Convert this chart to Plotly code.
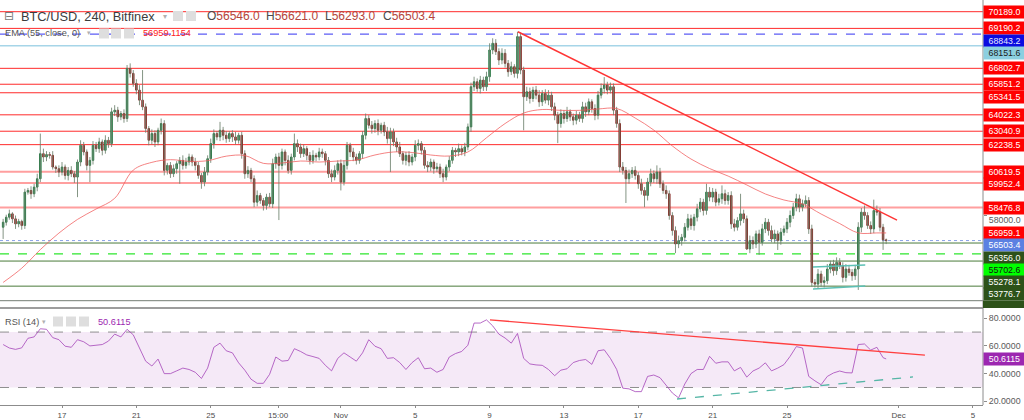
import plotly.graph_objects as go
import pandas as pd

# ---------------- data ----------------
title_text = "BTC/USD, 240, Bitfinex"
ema_title = "EMA (55, close, 0)"
rsi_title = "RSI (14)"

candle_start = "2021-10-13 20:00"
first_open = 57300.0
closes = [
    57600, 57900, 58100, 57800, 57500, 57650,
    57400, 59400, 59500, 59300, 59700, 60200,
    61700, 61500, 61650, 61600, 60900, 60800,
    60600, 60900, 60400, 60700, 60500, 60300,
    61200, 62200, 61800, 61000, 61300, 62200,
    62000, 62400, 61900, 62500, 62300, 64200,
    64300, 63900, 64100, 63800, 66800, 66500,
    65900, 65500, 64900, 64500, 63200, 62500,
    62900, 62400, 63100, 63500, 60700, 61000,
    60500, 60800, 61100, 61300, 61000, 61200,
    61500, 61200, 61000, 60400, 60000, 60600,
    61400, 62300, 62900, 62700, 63100, 62800,
    62600, 62900, 62700, 62500, 62800, 61700,
    60500, 60700, 60200, 58800, 59200, 58900,
    58600, 59100, 58700, 61100, 61500, 61000,
    61800, 61300, 60700, 61500, 62300, 62100,
    61700, 62000, 61600, 61300, 61600, 61500,
    61800, 61700, 61300, 60500, 60300, 60700,
    61100, 60000, 61000, 62200, 61800, 61500,
    61300, 61700, 62800, 63800, 63400, 63200,
    63500, 63100, 63400, 63000, 62600, 63000,
    62400, 62100, 61700, 61300, 61600, 61200,
    61500, 62200, 62300, 61900, 61000, 60900,
    61200, 60800, 60900, 60500, 60300, 60900,
    61300, 61900, 61800, 62000, 61800, 62100,
    63300, 65700, 66000, 65600, 66100, 65700,
    66300, 67900, 68300, 67800, 67300, 67700,
    67100, 66600, 66900, 66500, 68700, 66700,
    65100, 65400, 65000, 65500, 65200, 64800,
    65300, 64900, 65200, 64500, 64000, 63500,
    64100, 63800, 64200, 63900, 63700, 64000,
    63800, 64500, 64200, 64800, 64400, 64000,
    65200, 65600, 65800, 65500, 65700, 64300,
    63500, 60900, 60700, 60200, 60500, 60700,
    60400, 59900, 59500, 59200, 60000, 60500,
    60200, 60600, 59900, 59500, 59300, 58000,
    57100, 56300, 56500, 56700, 57300, 57800,
    57400, 57900, 58400, 58800, 58300, 59400,
    59100, 59400, 58800, 59000, 59300, 58900,
    59200, 57500, 57300, 57700, 58100, 57800,
    56000, 56500, 56300, 56900, 56400, 57200,
    57600, 57100, 56600, 56900, 56500, 57000,
    57200, 57600, 58000, 58500, 59000, 58500,
    58700, 58900, 57200, 54000, 53900, 54500,
    54000, 54100, 54800, 55100, 54700, 55200,
    55000, 54300, 54800, 54600, 54400, 54800,
    57300, 58200, 58000, 57400, 57200, 58300,
    58200, 57300, 56546.0, 56503.4,
]
wick_up = [
    200, 150, 250, 100, 200, 150,
    100, 200, 150, 250, 200, 300,
    1200, 300, 200, 150, 250, 100,
    200, 300, 150, 200, 250, 150,
    150, 300, 200, 150, 200, 250,
    200, 250, 150, 300, 200, 250,
    300, 200, 150, 250, 200, 300,
    200, 250, 300, 1800, 200, 150,
    250, 200, 150, 300, 200, 150,
    200, 250, 150, 200, 300, 250,
    200, 150, 250, 200, 150, 300,
    200, 300, 250, 150, 500, 200,
    250, 150, 200, 300, 150, 200,
    200, 250, 150, 200, 300, 150,
    150, 200, 250, 300, 200, 250,
    200, 150, 300, 200, 600, 250,
    200, 250, 150, 200, 300, 150,
    250, 200, 150, 200, 250, 300,
    200, 250, 300, 200, 150, 250,
    200, 150, 250, 300, 200, 250,
    200, 250, 150, 200, 300, 250,
    200, 250, 300, 150, 200, 250,
    200, 300, 250, 150, 200, 250,
    200, 150, 250, 200, 300, 150,
    250, 200, 150, 300, 200, 250,
    200, 250, 300, 200, 250, 200,
    300, 400, 300, 250, 200, 300,
    250, 200, 300, 150, 290, 250,
    200, 300, 250, 200, 250, 300,
    200, 250, 300, 200, 250, 200,
    250, 200, 300, 150, 200, 250,
    200, 300, 250, 200, 150, 250,
    250, 300, 480, 200, 250, 200,
    200, 250, 300, 200, 250, 200,
    250, 200, 300, 200, 250, 300,
    200, 400, 250, 200, 300, 200,
    200, 250, 300, 200, 250, 300,
    250, 200, 300, 250, 200, 500,
    300, 250, 200, 300, 500, 250,
    200, 250, 300, 200, 1200, 250,
    200, 300, 250, 200, 250, 300,
    250, 200, 300, 250, 200, 250,
    200, 250, 300, 250, 300, 250,
    250, 300, 200, 250, 200, 300,
    200, 250, 300, 200, 250, 300,
    250, 200, 300, 250, 200, 250,
    300, 250, 400, 200, 250, 650,
    300, 250, 200, 75,
]
wick_dn = [
    700, 200, 150, 250, 300, 200,
    250, 200, 150, 300, 200, 250,
    200, 300, 250, 200, 150, 250,
    300, 200, 250, 300, 200, 350,
    1200, 250, 200, 300, 1000, 250,
    200, 250, 300, 200, 250, 200,
    250, 300, 200, 250, 200, 250,
    200, 250, 300, 200, 250, 300,
    250, 300, 200, 250, 300, 250,
    250, 200, 300, 1200, 250, 200,
    200, 250, 300, 200, 400, 250,
    200, 250, 300, 200, 250, 300,
    250, 200, 300, 250, 200, 300,
    300, 250, 200, 300, 250, 200,
    300, 250, 200, 250, 300, 3270,
    250, 300, 200, 250, 200, 300,
    250, 200, 300, 250, 200, 250,
    200, 250, 300, 250, 300, 200,
    250, 500, 200, 250, 300, 250,
    250, 200, 300, 250, 200, 300,
    250, 300, 200, 250, 300, 2000,
    250, 300, 200, 250, 300, 250,
    200, 250, 300, 250, 200, 300,
    250, 300, 200, 250, 300, 200,
    250, 200, 300, 250, 200, 250,
    200, 300, 250, 200, 300, 250,
    250, 300, 250, 200, 300, 250,
    250, 300, 200, 250, 300, 250,
    2000, 250, 300, 200, 250, 300,
    250, 200, 300, 250, 300, 1170,
    250, 300, 200, 250, 300, 250,
    200, 250, 300, 200, 250, 300,
    250, 200, 300, 250, 200, 300,
    250, 300, 250, 1450, 300, 250,
    250, 300, 250, 700, 300, 250,
    250, 300, 250, 200, 300, 250,
    300, 550, 250, 300, 250, 200,
    250, 300, 250, 200, 300, 250,
    250, 300, 250, 200, 300, 250,
    250, 300, 250, 200, 300, 250,
    60, 250, 300, 250, 750, 200,
    250, 300, 200, 250, 560, 250,
    200, 250, 300, 200, 250, 300,
    250, 200, 300, 250, 200, 250,
    250, 300, 200, 250, 300, 250,
    200, 300, 250, 200, 300, 250,
    1250, 300, 250, 200, 300, 250,
    200, 250, 600, 210.4,
]

# EMA(55) read every 6th candle, plus the last candle
ema_values = [
    54000, 54850, 55960, 56950, 57770, 58390, 59030, 60720, 61180, 61340,
    61240, 61280, 61550, 61590, 61120, 61140, 61260, 61200, 61260, 61320,
    61620, 61800, 61770, 61620, 61560, 61800, 62650, 63500, 64130, 64340,
    64290, 64290, 64370, 64400, 63830, 63110, 62160, 61380, 60810, 60360,
    59830, 59290, 58930, 58690, 58090, 57520, 56960, 56960, 56959.1,
]
ema_last = 56959.1154

# RSI(14) read every 2nd candle, plus the last candle
rsi_values = [
    61, 58.5, 57.5, 58.6, 65.5, 66.5, 72.4, 72, 66, 64.5,
    59.8, 59, 64.5, 63, 60, 60.5, 61, 63.5, 68.5, 66.5,
    72, 68, 58, 49, 45.5, 50.5, 40, 40, 42, 44,
    43, 41, 36.5, 44, 59, 62, 56.5, 55, 47.8, 42.5,
    36, 33, 33, 39.5, 52, 49, 49.5, 58, 56, 53.5,
    52.3, 51, 46, 42, 51, 55, 52, 49, 55, 64.5,
    59.8, 58, 51, 51.5, 48, 43, 48, 51.5, 43.5, 44,
    41, 43, 52, 54.5, 56, 60.5, 76.5, 76.5, 78.8, 74.5,
    68.5, 65.7, 62, 69, 51, 47, 46.3, 46, 43, 38.5,
    42.5, 43.5, 48, 49.5, 50.2, 46.7, 56.5, 57.2, 51, 43.1,
    29.5, 29, 27, 27, 38, 39, 37.1, 31.5, 26, 22.5,
    32.5, 40, 43, 43, 52.5, 47.5, 48.5, 48.5, 42, 44.5,
    37.5, 41.9, 44, 47.8, 42, 44, 46.5, 52.5, 59.5, 58.5,
    38, 34.8, 32, 38, 40.5, 41.9, 40.7, 40.5, 61, 61.4,
    57, 59, 51.5, 50.6115,
]
rsi_last = 50.6115

level_prices = [70189.0, 69190.2, 68843.2, 68151.6, 66802.7, 65851.2, 65341.5,
                64022.3, 63040.9, 62238.5, 60619.5, 59952.4, 58476.8,
                56356.0, 55702.6, 55278.1, 53776.7, 52907.0]
level_kinds = ["res", "res", "ath", "pivot", "res", "res", "res",
               "res", "res", "res", "zone", "zone", "zone",
               "sup", "supd", "sup", "sup", "sup2"]

trend_times = ["2021-11-10 12:30", "2021-11-30 22:00"]
trend_prices = [68990, 57730]
channel_times = ["2021-11-26 09:30", "2021-11-29 05:00"]
channel_upper = [54920, 55040]
channel_lower = [53610, 53790]

rsi_trend_times = ["2021-11-09 00:30", "2021-12-02 10:00"]
rsi_trend_values = [78.8, 53.3]
rsi_support_times = ["2021-11-19 02:00", "2021-12-01 18:40"]
rsi_support_values = [21.7, 37.6]

price_ticks = [54000, 56000, 58000, 60000, 62000, 64000, 66000, 68000, 70000]
rsi_ticks = [20, 40, 60, 80]
xtick_dates = ["2021-10-17", "2021-10-21", "2021-10-25", "2021-10-28 15:00",
               "2021-11-01", "2021-11-05", "2021-11-09", "2021-11-13",
               "2021-11-17", "2021-11-21", "2021-11-25", "2021-12-01", "2021-12-05"]
xtick_text = ["17", "21", "25", "15:00", "Nov", "5", "9", "13", "17", "21", "25", "Dec", "5"]

assert len(closes) == len(wick_up) == len(wick_dn) == 286
assert len(ema_values) == 49 and len(rsi_values) == 144

# ---------------- geometry / style ----------------
W, H = 1024, 420
PLOT_R = 983
MAIN_T, MAIN_B = 0, 308
RSI_T, RSI_B = 310, 405
P_TOP, P_BOT = 70888.7, 52470.3
R_TOP, R_BOT = 85.93, 17.36
X0, X1 = "2021-10-13 15:57", "2021-12-05 13:00"
FONT = "Liberation Sans, Arial, DejaVu Sans, sans-serif"
LABEL_H = 12.3


def py(p):
    return 1 - p / H


def price_px(p):
    return MAIN_T + (P_TOP - p) / (P_TOP - P_BOT) * (MAIN_B - MAIN_T)


def rsi_px(v):
    return RSI_T + (R_TOP - v) / (R_TOP - R_BOT) * (RSI_B - RSI_T)


kind_style = {
    "res": dict(color="#ff2b2b", width=1, dash="solid", bg="#ff0000", fg="#ffffff"),
    "zone": dict(color="rgba(255,95,95,0.6)", width=2, dash="solid", bg="#ff0000", fg="#ffffff"),
    "ath": dict(color="#5c5cf5", width=1.3, dash="dash", bg="#0b0be0", fg="#e6e6ff"),
    "pivot": dict(color="#a6d5e8", width=1.3, dash="solid", bg="#8ccfe0", fg="#1b1b1b"),
    "sup": dict(color="#4a7a3a", width=1, dash="solid", bg="#2d5219", fg="#ffffff"),
    "sup2": dict(color="#737d73", width=1, dash="solid", bg="#2d5219", fg="#ffffff"),
    "supd": dict(color="#2ee62e", width=1.3, dash="dash", bg="#00ff00", fg="#102010"),
}

# ---------------- derived candle values ----------------
times = pd.date_range(candle_start, periods=len(closes), freq="4h")
opens = [first_open] + closes[:-1]
highs = [max(o, c) + u for o, c, u in zip(opens, closes, wick_up)]
lows = [min(o, c) - d for o, c, d in zip(opens, closes, wick_dn)]
body_hi = [max(o, c) for o, c in zip(opens, closes)]
body_lo = [min(o, c) for o, c in zip(opens, closes)]

fig = go.Figure()

# wicks (grey, as in the reference)
wx, wy = [], []
for t, lo, hi in zip(times, lows, highs):
    wx += [t, t, None]
    wy += [lo, hi, None]
fig.add_trace(go.Scatter(x=wx, y=wy, mode="lines", line=dict(color="rgba(110,130,110,0.85)", width=1),
                         xaxis="x", yaxis="y", hoverinfo="skip"))

fig.add_trace(go.Candlestick(
    x=times, open=opens, high=body_hi, low=body_lo, close=closes,
    increasing=dict(fillcolor="#3a9a5e", line=dict(color="#2c7a48", width=1)),
    decreasing=dict(fillcolor="#b3433b", line=dict(color="#862e28", width=1)),
    whiskerwidth=0, xaxis="x", yaxis="y", hoverinfo="skip"))

ema_times = list(times[::6]) + [times[-1]]
fig.add_trace(go.Scatter(x=ema_times, y=ema_values, mode="lines",
                         line=dict(color="rgba(240,90,90,0.75)", width=1, shape="spline"),
                         xaxis="x", yaxis="y"))

fig.add_trace(go.Scatter(x=trend_times, y=trend_prices, mode="lines",
                         line=dict(color="#ff3535", width=1.5), xaxis="x", yaxis="y"))
for ys in (channel_upper, channel_lower):
    fig.add_trace(go.Scatter(x=channel_times, y=ys, mode="lines",
                             line=dict(color="#5cc0b5", width=1.5), xaxis="x", yaxis="y"))

rsi_times = list(times[::2]) + [times[-1]]
fig.add_trace(go.Scatter(x=rsi_times, y=rsi_values, mode="lines",
                         line=dict(color="rgba(165,70,185,0.8)", width=1),
                         xaxis="x2", yaxis="y2"))
fig.add_trace(go.Scatter(x=rsi_trend_times, y=rsi_trend_values, mode="lines",
                         line=dict(color="#ff4040", width=1.3), xaxis="x2", yaxis="y2"))
fig.add_trace(go.Scatter(x=rsi_support_times, y=rsi_support_values, mode="lines",
                         line=dict(color="#56b6a6", width=1.3, dash="dash"), xaxis="x2", yaxis="y2"))

shapes = []
annotations = []
xr = PLOT_R / W

# horizontal levels
for p, k in zip(level_prices, level_kinds):
    s = kind_style[k]
    shapes.append(dict(type="line", xref="paper", yref="y", x0=0, x1=xr, y0=p, y1=p,
                       line=dict(color=s["color"], width=s["width"], dash=s["dash"]), layer="below"))
# current price line
shapes.append(dict(type="line", xref="paper", yref="y", x0=0, x1=xr, y0=closes[-1], y1=closes[-1],
                   line=dict(color="#8aa2e6", width=1, dash="dot"), layer="below"))

# RSI band
shapes.append(dict(type="rect", xref="paper", yref="y2", x0=0, x1=xr, y0=30, y1=70,
                   fillcolor="rgba(156,39,176,0.10)", line=dict(width=0), layer="below"))
for v in (30, 70):
    shapes.append(dict(type="line", xref="paper", yref="y2", x0=0, x1=xr, y0=v, y1=v,
                       line=dict(color="#8f8f8f", width=1, dash="dash"), layer="below"))

# separator and right axis line
shapes.append(dict(type="line", xref="paper", yref="paper", x0=0, x1=xr, y0=py(MAIN_B), y1=py(MAIN_B),
                   line=dict(color="#7d7d7d", width=1.5)))
shapes.append(dict(type="line", xref="paper", yref="paper", x0=xr, x1=xr, y0=py(RSI_B), y1=1,
                   line=dict(color="#8c8c8c", width=1)))

# price-axis labels, stacked like the platform does
labels = [(p, kind_style[k]["bg"], kind_style[k]["fg"]) for p, k in zip(level_prices, level_kinds)]
labels.append((ema_last, "#ff0000", "#ffffff"))
labels.append((closes[-1], "#5b80e2", "#ffffff"))
labels.sort(key=lambda e: -e[0])
prev = -1e9
boxes = []
for p, bg, fg in labels:
    pos = max(price_px(p), prev + LABEL_H)
    prev = pos
    boxes.append((pos - LABEL_H / 2, pos + LABEL_H / 2))
    if pos + LABEL_H / 2 > MAIN_B + 1:
        shapes.append(dict(type="rect", xref="paper", yref="paper", x0=xr, x1=1,
                           y0=py(MAIN_B), y1=py(pos - LABEL_H / 2), fillcolor=bg, line=dict(width=0)))
        continue
    annotations.append(dict(x=xr, y=py(pos), xref="paper", yref="paper", xanchor="left", yanchor="middle",
                            text=f"{p:.1f}", showarrow=False, bgcolor=bg, width=41, height=LABEL_H,
                            borderpad=0, align="center", font=dict(family=FONT, size=8.8, color=fg)))

# axis tick labels whose centre a label box covers are left blank
price_ticktext = []
for v in price_ticks:
    c = price_px(v)
    hidden = any(b0 - 1 < c < b1 + 1 for b0, b1 in boxes)
    price_ticktext.append("" if hidden else f"{v:.1f}")

# RSI value label
rsi_box_c = rsi_px(rsi_last)
annotations.append(dict(x=xr, y=py(rsi_box_c), xref="paper", yref="paper", xanchor="left",
                        yanchor="middle", text=f"{rsi_last:.4f}", showarrow=False, bgcolor="#9c27b0",
                        width=41, height=LABEL_H, borderpad=0, align="center",
                        font=dict(family=FONT, size=8.8, color="#ffffff")))


def text(x, y, s, size, color, family=FONT):
    annotations.append(dict(x=x / W, y=py(y), xref="paper", yref="paper", xanchor="left",
                            yanchor="middle", text=s, showarrow=False,
                            font=dict(family=family, size=size, color=color)))


def icon_boxes(xs, y0, y1):
    for xa in xs:
        shapes.append(dict(type="rect", xref="paper", yref="paper", x0=xa / W, x1=(xa + 10) / W,
                           y0=py(y1), y1=py(y0), fillcolor="#dedede", line=dict(width=0)))


# header
text(2, 16.5, "⊟", 12, "#7a7a7a", "DejaVu Sans")
text(19, 16.5, title_text, 12.8, "#3c3c3c")
text(161, 16.5, "▾", 8, "#b0b0b0", "DejaVu Sans")
icon_boxes([173, 186], 11, 21)
ohlc = [("O", opens[-1]), ("H", highs[-1]), ("L", lows[-1]), ("C", closes[-1])]
for (lab, v), xx in zip(ohlc, [205, 264, 323, 381]):
    text(xx, 16.5, f"{lab}<span style='color:#b5443b'>{v:.1f}</span>", 12, "#4a4a4a")

text(3, 33.5, ema_title, 9.2, "#555555")
text(85, 33.5, "▾", 7, "#b0b0b0", "DejaVu Sans")
icon_boxes([99, 111, 124], 28.5, 38.5)
text(141, 33.5, f"{ema_last:.4f}", 9.2, "#ff2020")

text(3, 321.5, rsi_title, 9.2, "#555555")
text(40, 321.5, "▾", 7, "#b0b0b0", "DejaVu Sans")
icon_boxes([53, 66, 79], 316.5, 326.5)
text(96, 321.5, f"{rsi_last:.4f}", 9.2, "#9c27b0")

rsi_ticktext = []
for v in rsi_ticks:
    c = rsi_px(v)
    hidden = abs(c - rsi_box_c) < LABEL_H / 2 + 3.5
    rsi_ticktext.append("" if hidden else f"{v:.4f}")

fig.update_layout(
    width=W, height=H, margin=dict(l=0, r=0, t=0, b=0), template="none",
    paper_bgcolor="white", plot_bgcolor="white", showlegend=False, hovermode=False,
    shapes=shapes, annotations=annotations,
    xaxis=dict(domain=[0, xr], range=[X0, X1], anchor="y", type="date", showticklabels=False,
               showgrid=False, zeroline=False, showline=False, ticks="",
               rangeslider=dict(visible=False)),
    xaxis2=dict(domain=[0, xr], range=[X0, X1], anchor="y2", type="date", matches="x",
                showgrid=False, zeroline=False, showline=True, linecolor="#8c8c8c", linewidth=1,
                ticks="outside", ticklen=2, tickcolor="#8c8c8c", tickvals=xtick_dates,
                ticktext=xtick_text, tickfont=dict(family=FONT, size=8, color="#4d4d4d")),
    yaxis=dict(domain=[py(MAIN_B), py(MAIN_T)], range=[P_BOT, P_TOP], anchor="x", side="right",
               showgrid=False, zeroline=False, showline=False, ticks="outside", ticklen=3,
               tickcolor="#8c8c8c", tickvals=price_ticks, ticktext=price_ticktext,
               ticklabelshift=4,
               tickfont=dict(family=FONT, size=8.8, color="#5a5a5a")),
    yaxis2=dict(domain=[py(RSI_B), py(RSI_T)], range=[R_BOT, R_TOP], anchor="x2", side="right",
                showgrid=False, zeroline=False, showline=False, ticks="outside", ticklen=3,
                tickcolor="#8c8c8c", tickvals=rsi_ticks, ticktext=rsi_ticktext,
                tickfont=dict(family=FONT, size=8.8, color="#5a5a5a")),
)

fig.write_html("out.html")
